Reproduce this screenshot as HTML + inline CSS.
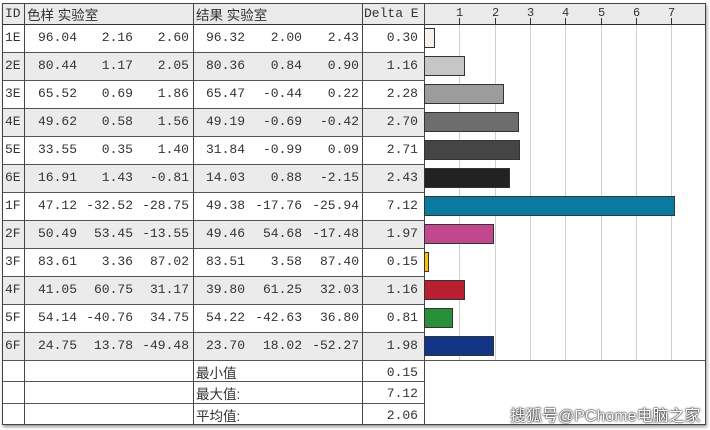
<!DOCTYPE html>
<html><head><meta charset="utf-8"><style>
body{margin:0;width:710px;height:430px;background:#fff;overflow:hidden;font-family:"Liberation Mono","Noto Serif CJK SC",monospace;font-size:13px;color:#333}
#f{position:absolute;left:2px;top:3px;width:704px;height:422px;border:1px solid #444;box-shadow:1px 2px 3px #999;box-sizing:border-box}
.a{position:absolute}
.r{position:absolute;text-align:right;white-space:pre}
.vl{position:absolute;width:1px;background:#444}
.hl{position:absolute;height:1px;background:#555}
.g{position:absolute;width:1px;background:#d0d0d0;top:24px;height:336px}
.cj{font-family:"Liberation Sans","Noto Sans CJK SC",sans-serif;font-size:13.5px}
</style></head><body>
<div id="f"></div>
<div class="a" style="left:3px;top:4px;width:702px;height:20px;background:#eaeaea"></div>
<div id="rows"></div>
<script>
var d=[["1E","96.04","2.16","2.60","96.32","2.00","2.43","0.30","#f6f1ee"],
["2E","80.44","1.17","2.05","80.36","0.84","0.90","1.16","#c6c6c6"],
["3E","65.52","0.69","1.86","65.47","-0.44","0.22","2.28","#9c9c9c"],
["4E","49.62","0.58","1.56","49.19","-0.69","-0.42","2.70","#6d6d6d"],
["5E","33.55","0.35","1.40","31.84","-0.99","0.09","2.71","#454545"],
["6E","16.91","1.43","-0.81","14.03","0.88","-2.15","2.43","#222222"],
["1F","47.12","-32.52","-28.75","49.38","-17.76","-25.94","7.12","#0c7aa0"],
["2F","50.49","53.45","-13.55","49.46","54.68","-17.48","1.97","#c2488e"],
["3F","83.61","3.36","87.02","83.51","3.58","87.40","0.15","#f7c200"],
["4F","41.05","60.75","31.17","39.80","61.25","32.03","1.16","#b81f30"],
["5F","54.14","-40.76","34.75","54.22","-42.63","36.80","0.81","#2a8f3a"],
["6F","24.75","13.78","-49.48","23.70","18.02","-52.27","1.98","#123585"]];
var h='';
var rx=[77,133,189,245,302,359];
for(var i=0;i<12;i++){var y=24+i*28;var r=d[i];
if(i%2==1)h+='<div class="a" style="left:3px;top:'+y+'px;width:421px;height:28px;background:#ebebeb"></div>';
h+='<div class="hl" style="left:3px;top:'+y+'px;width:421px"></div>';
h+='<div class="a" style="left:5px;top:'+(y+6)+'px">'+r[0]+'</div>';
for(var j=0;j<6;j++)h+='<div class="r" style="right:'+(710-rx[j])+'px;top:'+(y+6)+'px">'+r[j+1]+'</div>';
h+='<div class="r" style="right:292px;top:'+(y+6)+'px">'+r[7]+'</div>';
var w=Math.round(parseFloat(r[7])*35.3);
h+='<div class="a" style="left:424px;top:'+(y+4)+'px;width:'+w+'px;height:20px;background:'+r[8]+';border:1px solid #333;box-sizing:border-box;z-index:2"></div>';
}
for(var k=1;k<=7;k++){var x=424+Math.round(k*35.3);h+='<div class="g" style="left:'+x+'px"></div><div class="a" style="left:'+(x-3)+'px;top:6px;font-size:12px">'+k+'</div><div class="a" style="left:'+x+'px;top:18px;width:1px;height:6px;background:#333"></div>';}
h+='<div class="hl" style="left:3px;top:24px;width:702px;background:#333"></div>';
h+='<div class="hl" style="left:3px;top:360px;width:702px"></div>';
h+='<div class="hl" style="left:3px;top:381px;width:421px"></div>';
h+='<div class="hl" style="left:3px;top:403px;width:421px"></div>';
document.getElementById('rows').innerHTML=h;
</script>
<div class="vl" style="left:24px;top:3px;height:422px"></div>
<div class="vl" style="left:193px;top:3px;height:422px"></div>
<div class="vl" style="left:362px;top:3px;height:422px"></div>
<div class="vl" style="left:424px;top:3px;height:422px"></div>
<div class="a" style="left:5px;top:6px">ID</div>
<div class="a cj" style="left:27px;top:4px">色样 实验室</div>
<div class="a cj" style="left:196px;top:4px">结果 实验室</div>
<div class="a" style="left:364px;top:6px">Delta E</div>
<div class="a cj" style="left:196px;top:362px">最小值</div>
<div class="a cj" style="left:196px;top:383px">最大值:</div>
<div class="a cj" style="left:196px;top:405px">平均值:</div>
<div class="r" style="right:292px;top:365px">0.15</div>
<div class="r" style="right:292px;top:386px">7.12</div>
<div class="r" style="right:292px;top:408px">2.06</div>
<div class="a cj" style="left:510px;top:402px;font-size:16px;color:#fff;text-shadow:0 0 2px #000,0 0 1px #000">搜狐号@PChome电脑之家</div>
</body></html>
